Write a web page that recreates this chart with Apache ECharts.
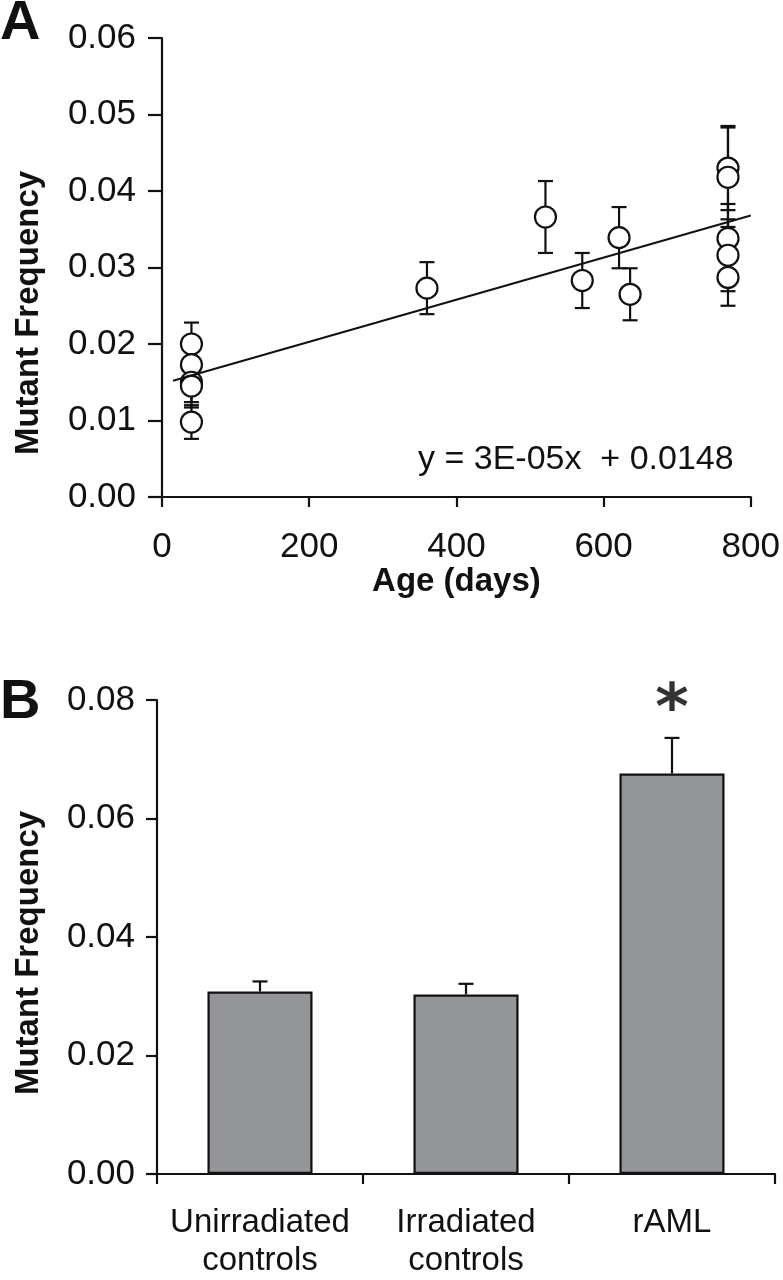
<!DOCTYPE html>
<html><head><meta charset="utf-8">
<script src="https://cdn.jsdelivr.net/npm/echarts@6/dist/echarts.min.js"></script>
<style>html,body{margin:0;padding:0;background:#fff}#c{width:783px;height:1280px}</style>
</head><body><div id="c"></div>
<script>
// Panel A data
const ageDays   = [40, 40, 40, 40, 40, 360, 521, 571, 621, 636, 769, 769, 769, 769, 769];
const mutFreqA  = [0.0200, 0.0173, 0.0150, 0.0145, 0.0098, 0.0273, 0.0366, 0.0283, 0.0339, 0.0265, 0.0430, 0.0418, 0.0338, 0.0316, 0.0287];
const errA      = [0.0028, 0.0025, 0.0026, 0.0028, 0.0022, 0.0034, 0.0047, 0.0036, 0.0040, 0.0034, 0.0055, 0.0065, 0.0045, 0.0047, 0.0037];
const trendX    = [15, 800];
const trendY    = [0.0152, 0.0368];
const equationText = 'y = 3E-05x  + 0.0148';
const xTicksA = [0, 200, 400, 600, 800];
const yTicksA = [0, 0.01, 0.02, 0.03, 0.04, 0.05, 0.06];
// Panel B data
const groupsB   = ['Unirradiated\ncontrols', 'Irradiated\ncontrols', 'rAML'];
const mutFreqB  = [0.0308, 0.0303, 0.0676];
const errB      = [0.0017, 0.0018, 0.0060];
const sigMarkB  = ['', '', '*'];
const yTicksB = [0, 0.02, 0.04, 0.06, 0.08];
const yTitle = 'Mutant Frequency';

const FONT = 'Liberation Sans, Arial, sans-serif';
const BLACK = '#111';
const chart = echarts.init(document.getElementById('c'));

function errRenderA(params, api) {
  const x = api.value(0), y = api.value(1), e = api.value(2);
  const t = api.coord([x, y + e]), b = api.coord([x, y - e]);
  const hw = 7.5, st = {stroke: BLACK, lineWidth: 2.2};
  return {type: 'group', children: [
    {type: 'line', shape: {x1: t[0], y1: t[1], x2: b[0], y2: b[1]}, style: st},
    {type: 'line', shape: {x1: t[0] - hw, y1: t[1], x2: t[0] + hw, y2: t[1]}, style: st},
    {type: 'line', shape: {x1: b[0] - hw, y1: b[1], x2: b[0] + hw, y2: b[1]}, style: st}
  ]};
}
function errRenderB(params, api) {
  const i = api.value(0), y = api.value(1), e = api.value(2);
  const t = api.coord([i, y + e]), b = api.coord([i, y]);
  const hw = 7.5, st = {stroke: BLACK, lineWidth: 2.2};
  return {type: 'group', children: [
    {type: 'line', shape: {x1: t[0], y1: t[1], x2: b[0], y2: b[1]}, style: st},
    {type: 'line', shape: {x1: t[0] - hw, y1: t[1], x2: t[0] + hw, y2: t[1]}, style: st}
  ]};
}

const axisLine = {show: true, lineStyle: {color: BLACK, width: 2.2}};
const tickStyle = {color: BLACK, fontFamily: FONT, fontSize: 35};
const catStyle = {color: BLACK, fontFamily: FONT, fontSize: 33};
const nameStyle = {color: BLACK, fontFamily: FONT, fontSize: 33, fontWeight: 'bold'};

chart.setOption({
  animation: false,
  backgroundColor: '#fff',
  grid: [
    {left: 162, top: 38, width: 594, height: 459},
    {left: 157, top: 700, width: 618, height: 478}
  ],
  xAxis: [
    {gridIndex: 0, type: 'value', min: xTicksA[0], max: xTicksA[xTicksA.length - 1], interval: 200,
     axisLine: axisLine, axisTick: {show: true, length: 10, lineStyle: {color: BLACK, width: 2.2}},
     splitLine: {show: false},
     axisLabel: Object.assign({margin: 33}, tickStyle),
     name: 'Age (days)', nameLocation: 'middle', nameGap: 59, nameTextStyle: nameStyle},
    {gridIndex: 1, type: 'category', data: groupsB, boundaryGap: true,
     axisLine: axisLine, axisTick: {show: true, length: 10, alignWithLabel: false, lineStyle: {color: BLACK, width: 2.2}},
     axisLabel: Object.assign({margin: 30, lineHeight: 38, interval: 0}, catStyle)}
  ],
  yAxis: [
    {gridIndex: 0, type: 'value', min: yTicksA[0], max: yTicksA[yTicksA.length - 1], interval: 0.01,
     axisLine: axisLine, axisTick: {show: true, length: 14, lineStyle: {color: BLACK, width: 2.2}},
     splitLine: {show: false},
     axisLabel: Object.assign({margin: 26, formatter: v => v.toFixed(2)}, tickStyle)},
    {gridIndex: 1, type: 'value', min: yTicksB[0], max: yTicksB[yTicksB.length - 1], interval: 0.02,
     axisLine: axisLine, axisTick: {show: true, length: 11, lineStyle: {color: BLACK, width: 2.2}},
     splitLine: {show: false},
     axisLabel: Object.assign({margin: 22, formatter: v => v.toFixed(2)}, tickStyle)}
  ],
  series: [
    {type: 'custom', xAxisIndex: 0, yAxisIndex: 0, z: 2,
     data: ageDays.map((d, i) => [d, mutFreqA[i], errA[i]]), renderItem: errRenderA},
    {type: 'scatter', xAxisIndex: 0, yAxisIndex: 0, z: 3, symbol: 'circle', symbolSize: 21,
     itemStyle: {color: '#fff', borderColor: BLACK, borderWidth: 2.2, opacity: 1},
     data: ageDays.map((d, i) => [d, mutFreqA[i]])},
    {type: 'line', xAxisIndex: 0, yAxisIndex: 0, z: 4, symbol: 'none',
     lineStyle: {color: BLACK, width: 2}, data: trendX.map((d, i) => [d, trendY[i]])},
    {type: 'bar', xAxisIndex: 1, yAxisIndex: 1, z: 2, barWidth: '51%',
     itemStyle: {color: '#939598', borderColor: BLACK, borderWidth: 2.2},
     data: mutFreqB},
    {type: 'custom', xAxisIndex: 1, yAxisIndex: 1, z: 3,
     data: mutFreqB.map((v, i) => [i, v, errB[i]]), renderItem: errRenderB},
    {type: 'scatter', xAxisIndex: 1, yAxisIndex: 1, z: 4, symbolSize: 0,
     data: mutFreqB.map((v, i) => [i, v + errB[i]]),
     label: {show: true, position: 'top', distance: -6, formatter: p => sigMarkB[p.dataIndex],
             color: '#000', fontFamily: 'DejaVu Sans, ' + FONT, fontSize: 64, fontWeight: 'bold'}}
  ],
  graphic: [
    {type: 'text', left: 0, top: -4, style: {text: 'A', fill: BLACK, font: 'bold 56px ' + FONT}},
    {type: 'text', left: 0, top: 675, style: {text: 'B', fill: BLACK, font: 'bold 56px ' + FONT}},
    {type: 'text', left: 418, top: 443, style: {text: equationText, fill: BLACK, font: '34px ' + FONT}},
    {type: 'text', x: 29, y: 313, rotation: Math.PI / 2,
     style: {text: yTitle, fill: BLACK, font: 'bold 33px ' + FONT, align: 'center', verticalAlign: 'middle'}},
    {type: 'text', x: 29, y: 953, rotation: Math.PI / 2,
     style: {text: yTitle, fill: BLACK, font: 'bold 33px ' + FONT, align: 'center', verticalAlign: 'middle'}}
  ]
});
</script></body></html>
